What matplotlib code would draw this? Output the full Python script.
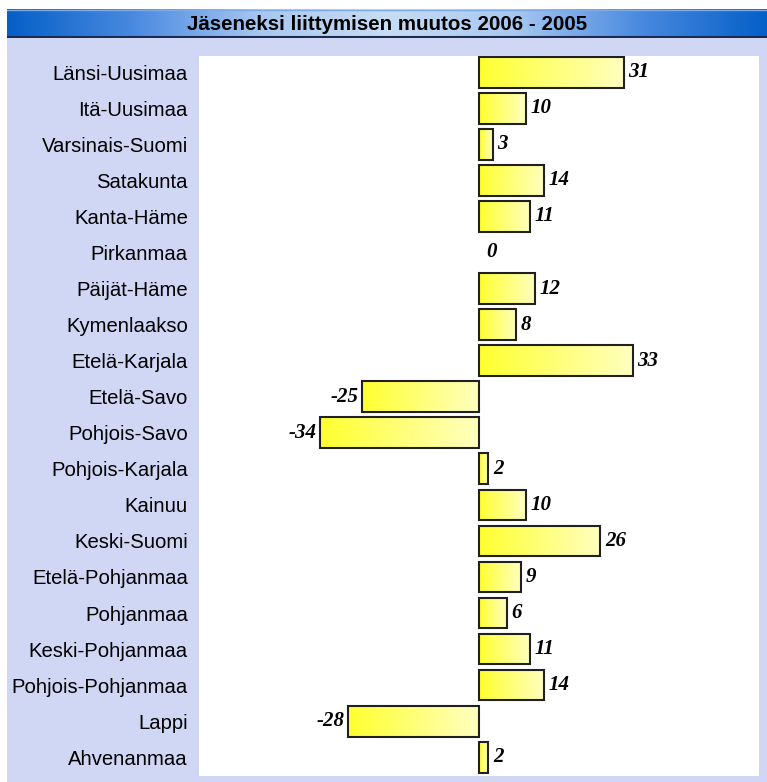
import numpy as np
import matplotlib
matplotlib.use("Agg")
import matplotlib.pyplot as plt
from matplotlib.patches import Rectangle
from matplotlib.colors import LinearSegmentedColormap

categories = ["Länsi-Uusimaa", "Itä-Uusimaa", "Varsinais-Suomi", "Satakunta", "Kanta-Häme",
              "Pirkanmaa", "Päijät-Häme", "Kymenlaakso", "Etelä-Karjala", "Etelä-Savo",
              "Pohjois-Savo", "Pohjois-Karjala", "Kainuu", "Keski-Suomi", "Etelä-Pohjanmaa",
              "Pohjanmaa", "Keski-Pohjanmaa", "Pohjois-Pohjanmaa", "Lappi", "Ahvenanmaa"]
values = [31, 10, 3, 14, 11, 0, 12, 8, 33, -25, -34, 2, 10, 26, 9, 6, 11, 14, -28, 2]
title = "Jäseneksi liittymisen muutos 2006 - 2005"

W, H = 767, 782
fig = plt.figure(figsize=(W / 100, H / 100), dpi=100)
fig.patch.set_facecolor("white")

def fx(px):
    return px / W

def fy(py):
    return 1 - py / H

# lavender background panel
bg = fig.add_axes([fx(7), 0, 1 - fx(7), fy(38)])
bg.set_facecolor("#CFD7F5")
bg.set_xticks([]); bg.set_yticks([])
for s in bg.spines.values():
    s.set_visible(False)
bg.set_zorder(-2)

# title bar with blue gradient
tb = fig.add_axes([fx(7), fy(38), 1 - fx(7), (38 - 9) / H])
tcm = LinearSegmentedColormap.from_list("tb", ["#0560C8", "#4A8AE0", "#A8C8F0", "#C8DCF4",
                                                "#A8C8F0", "#4A8AE0", "#0560C8"])
grad = np.linspace(0, 1, 256)[None, :]
tb.imshow(grad, aspect="auto", cmap=tcm, extent=[0, 1, 0, 1])
tb.axhline(0.03, color="#1A2A50", lw=1.5)
tb.axhline(0.97, color="#7FAAE8", lw=1)
tb.set_xlim(0, 1); tb.set_ylim(0, 1)
tb.set_xticks([]); tb.set_yticks([])
for s in tb.spines.values():
    s.set_visible(False)
tb.text(0.5, 0.48, title, ha="center", va="center", fontsize=14.8,
        family="Liberation Sans", weight="bold", color="black")

# main plot area
ax = fig.add_axes([fx(199), fy(776), fx(759) - fx(199), (776 - 56) / H])
ax.set_facecolor("white")
for s in ax.spines.values():
    s.set_visible(False)
ax.set_xticks([])
ax.set_yticks(range(len(categories)))
ax.set_yticklabels(categories, fontsize=14.6, family="Liberation Sans")
ax.tick_params(axis="y", length=0, pad=8)

ycm = LinearSegmentedColormap.from_list("yb", ["#FFFF30", "#FFFFC0"])
bh = 0.85
lab_kw = dict(va="center", fontsize=15, family="Liberation Serif",
              weight="bold", style="italic")
for i, v in enumerate(values):
    if v == 0:
        ax.text(1.5, i, "0", ha="left", **lab_kw)
        continue
    x0, x1 = min(0, v), max(0, v)
    rect = Rectangle((x0, i - bh / 2), x1 - x0, bh, facecolor="none",
                     edgecolor="#202020", lw=1.5, zorder=3)
    ax.add_patch(rect)
    im = ax.imshow(grad, aspect="auto", cmap=ycm,
                   extent=[x0, x1, i + bh / 2, i - bh / 2], zorder=2)
    im.set_clip_path(rect)
    if v > 0:
        ax.text(v + 1.0, i, str(v), ha="left", **lab_kw)
    else:
        ax.text(v - 0.9, i, str(v), ha="right", **lab_kw)
ax.set_xlim(-60, 60)
ax.set_ylim(len(categories) - 0.48, -0.45)

fig.savefig("out.png", dpi=100)
